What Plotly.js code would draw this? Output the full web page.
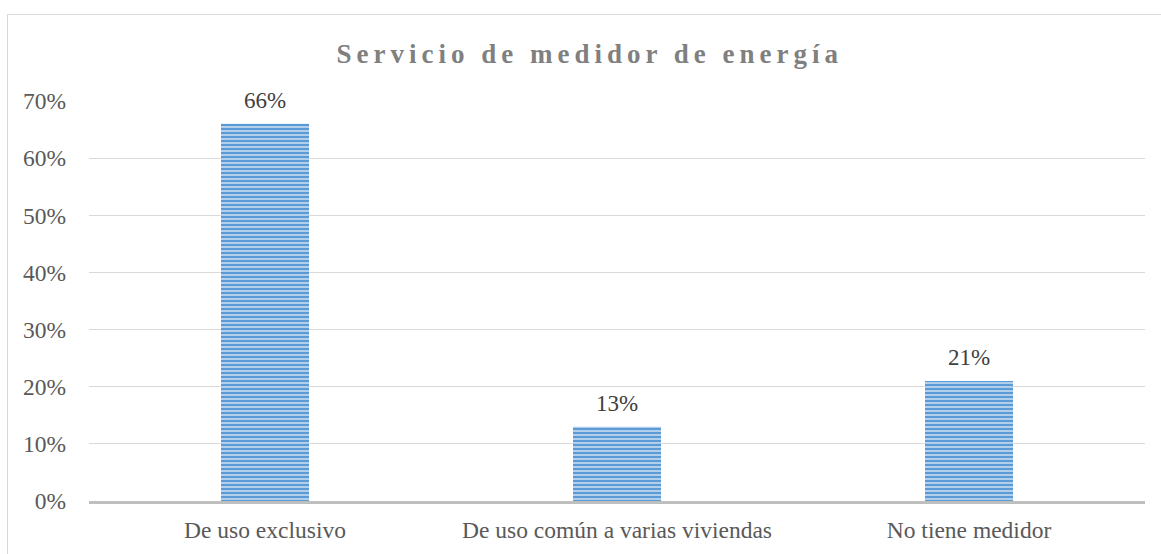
<!DOCTYPE html>
<html><head><meta charset="utf-8">
<script src="https://cdn.plot.ly/plotly-3.0.1.min.js"></script>
<style>
body{margin:0;padding:0;background:#fff;overflow:hidden;}
#wrap{position:relative;width:1161px;height:554px;}
#chart{position:absolute;left:0;top:0;width:1161px;height:554px;}
#border{position:absolute;left:7px;top:14px;width:1300px;height:700px;border:1px solid #d9d9d9;pointer-events:none;}
.gtitle{letter-spacing:5px;}
</style></head>
<body><div id="wrap"><div id="chart"></div><div id="border"></div></div>
<script>
const categories = ["De uso exclusivo", "De uso común a varias viviendas", "No tiene medidor"];
const values = [66, 13, 21];
const labels = ["66%", "13%", "21%"];
const yTicks = [0,10,20,30,40,50,60,70];

const font = "Liberation Serif, Times New Roman, serif";
Plotly.newPlot('chart', [{
  type: 'bar',
  x: categories,
  y: values,
  width: 0.25,
  marker: {
    color: '#5b9bd5',
    line: {width: 0},
    pattern: {shape: '-', fgcolor: '#d6e6f5', bgcolor: '#5b9bd5', size: 4, solidity: 0.35}
  },
  hoverinfo: 'none'
}], {
  width: 1161, height: 554,
  margin: {l: 89, r: 16, t: 101, b: 53},
  paper_bgcolor: 'rgba(0,0,0,0)',
  plot_bgcolor: 'rgba(0,0,0,0)',
  showlegend: false,
  title: {text: '<b>Servicio de medidor de energía</b>', x: 0.508, xanchor: 'center', y: 0.904, yanchor: 'middle',
    font: {family: font, size: 27, color: '#808080'}},
  annotations: categories.map((c, i) => ({
    x: c, y: values[i], text: labels[i], showarrow: false, yanchor: 'bottom', yshift: 9,
    font: {family: font, size: 23, color: '#404040'}
  })),
  xaxis: {showline: true, linecolor: '#bfbfbf', linewidth: 3, ticks: '', showgrid: false,
    ticklabelstandoff: 6,
    tickfont: {family: font, size: 23.5, color: '#595959'}},
  yaxis: {range: [0, 70], tickvals: yTicks, ticktext: yTicks.map(v => v + '%'), zeroline: false,
    showgrid: true, gridcolor: '#d9d9d9', gridwidth: 1, ticks: '', ticklabelstandoff: 22,
    tickfont: {family: font, size: 23.5, color: '#595959'}}
}, {displayModeBar: false, staticPlot: true});
</script></body></html>
